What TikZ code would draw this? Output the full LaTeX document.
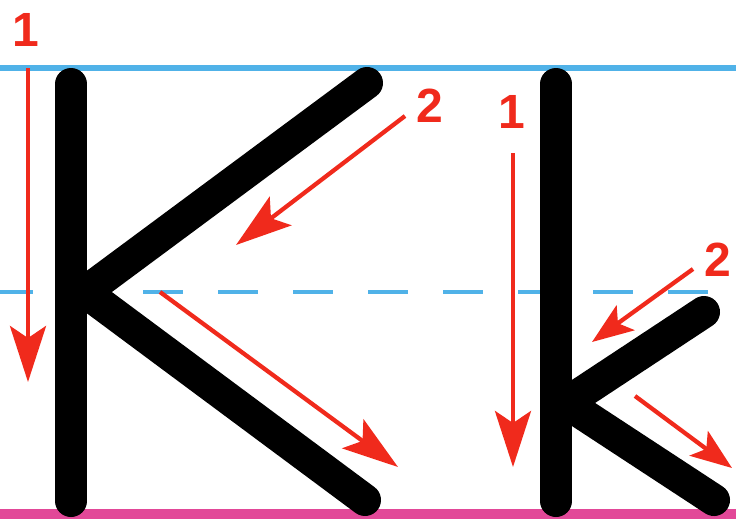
\documentclass[tikz,border=0pt]{standalone}
\usepackage{fontspec}
\setmainfont{Liberation Sans}
\usetikzlibrary{arrows.meta}
\definecolor{guideblue}{RGB}{80,178,232}
\definecolor{guidepink}{RGB}{226,72,152}
\definecolor{strokered}{RGB}{240,42,28}
\begin{document}
\begin{tikzpicture}[x=0.75pt,y=-0.75pt,
		stroke/.style={line width=24pt, line cap=round, line join=round},
		bigarrow/.style={strokered, line width=3.2pt, -{Stealth[length=42pt,width=27pt,inset=9pt]}},
		smallarrow/.style={strokered, line width=3.2pt, -{Stealth[length=31pt,width=23pt,inset=7pt]}},
		num/.style={strokered, inner sep=0pt, font=\bfseries\fontsize{36}{36}\selectfont}]
			\useasboundingbox (0,0) rectangle (736,522);
			% guide lines
			\draw[guideblue, line width=4.5pt] (0,68) -- (736,68);
			\draw[guideblue, line width=3pt, dash pattern=on 30pt off 26.25pt, dash phase=5.25pt] (0,292) -- (736,292);
			\draw[guidepink, line width=7.5pt] (0,514) -- (736,514);
			% capital K
			\coordinate (Kt) at (71,84);
			\coordinate (Kb) at (71,501);
			\coordinate (Kj) at (85,292);
			\coordinate (Ku) at (367,83);
			\coordinate (Kl) at (365,500);
			\draw[stroke] (Kt) -- (Kb);
			\draw[stroke] (Ku) -- (Kj) -- (Kl);
			% small k
			\coordinate (kt) at (556,84);
			\coordinate (kb) at (556,501);
			\coordinate (kj) at (566,403);
			\coordinate (ku) at (704,312);
			\coordinate (kl) at (714,500);
			\draw[stroke] (kt) -- (kb);
			\draw[stroke] (ku) -- (kj) -- (kl);
			% order of strokes
			\node[num] (n1) at (26,30) {1};
			\node[num] (n2) at (430,106) {2};
			\node[num] (m1) at (512,112) {1};
			\node[num] (m2) at (718,260) {2};
			\coordinate (a1) at (28,68);
			\coordinate (b1) at (28,382);
			\coordinate (a2) at (405,116);
			\coordinate (b2) at (236,245);
			\coordinate (a3) at (160,292);
			\coordinate (b3) at (398,467);
			\coordinate (c1) at (513,153);
			\coordinate (d1) at (513,467);
			\coordinate (c2) at (693,269);
			\coordinate (d2) at (592,342);
			\coordinate (c3) at (635,396);
			\coordinate (d3) at (732,468);
			\draw[bigarrow] (a1) -- (b1);
			\draw[bigarrow] (a2) -- (b2);
			\draw[bigarrow] (a3) -- (b3);
			\draw[bigarrow] (c1) -- (d1);
			\draw[smallarrow] (c2) -- (d2);
			\draw[smallarrow] (c3) -- (d3);
		\end{tikzpicture}
\end{document}
